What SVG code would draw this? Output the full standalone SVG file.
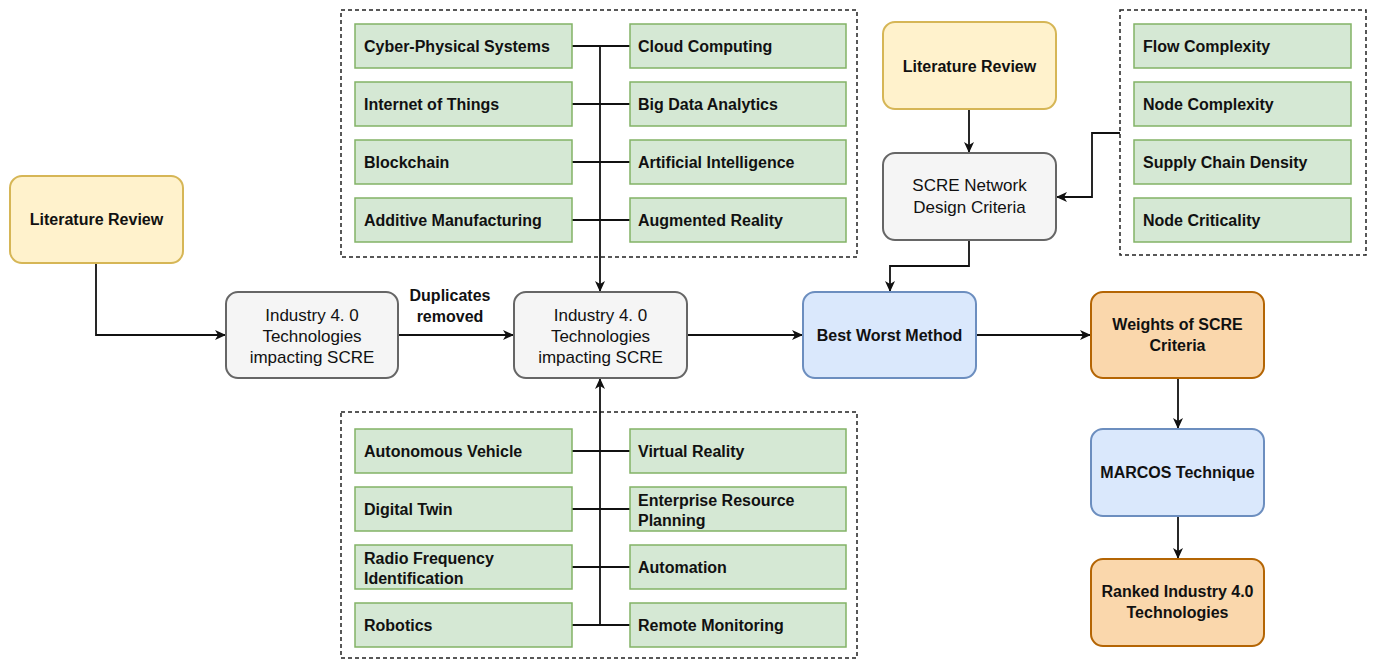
<svg xmlns="http://www.w3.org/2000/svg" width="1375" height="661" viewBox="0 0 1375 661">
  <style>
    text { font-family: "Liberation Sans", Arial, sans-serif; fill: #111; }
    .b { font-weight: bold; font-size: 16px; }
    .r { font-size: 17px; }
    .mid { text-anchor: middle; }
    .item { fill: #d5e8d4; stroke: #82b366; stroke-width: 1.5; }
    .yellow { fill: #fff2cc; stroke: #d6b656; stroke-width: 2; }
    .gray { fill: #f5f5f5; stroke: #666666; stroke-width: 2; }
    .blue { fill: #dae8fc; stroke: #6c8ebf; stroke-width: 2; }
    .orange { fill: #fad7ac; stroke: #b46504; stroke-width: 2; }
    .group { fill: none; stroke: #222; stroke-width: 1.5; stroke-dasharray: 4 3; }
    .wire { fill: none; stroke: #111; stroke-width: 1.8; }
  </style>
  <defs>
    <marker id="arrow" markerUnits="userSpaceOnUse" markerWidth="14" markerHeight="14" refX="12" refY="7" orient="auto">
      <path d="M1,2 L12,7 L1,12 L4,7 Z" fill="#111"/>
    </marker>
  </defs>

  <rect width="1375" height="661" fill="#ffffff"/>

  <!-- dashed groupings -->
  <g id="groups">
    <rect class="group" x="341" y="10" width="516" height="247"/>
    <rect class="group" x="341" y="412" width="516" height="246"/>
    <rect class="group" x="1120" y="10" width="246" height="245"/>
  </g>

  <!-- connectors -->
  <g id="connectors">
    <!-- upper technology tree -->
    <path class="wire" d="M572,46 H630 M572,104 H630 M572,162 H630 M572,220 H630"/>
    <path class="wire" d="M600,46 V292" marker-end="url(#arrow)"/>
    <!-- lower technology tree -->
    <path class="wire" d="M572,451 H630 M572,509 H630 M572,567 H630 M572,625 H630"/>
    <path class="wire" d="M600,625 V378" marker-end="url(#arrow)"/>
    <!-- main flow -->
    <path class="wire" d="M96,263 V335 H226" marker-end="url(#arrow)"/>
    <path class="wire" d="M398,335 H514" marker-end="url(#arrow)"/>
    <path class="wire" d="M687,335 H803" marker-end="url(#arrow)"/>
    <path class="wire" d="M969,109 V153" marker-end="url(#arrow)"/>
    <path class="wire" d="M1120,133 H1092 V197 H1056" marker-end="url(#arrow)"/>
    <path class="wire" d="M969,240 V266 H890 V292" marker-end="url(#arrow)"/>
    <path class="wire" d="M976,335 H1091" marker-end="url(#arrow)"/>
    <path class="wire" d="M1178,378 V429" marker-end="url(#arrow)"/>
    <path class="wire" d="M1178,516 V559" marker-end="url(#arrow)"/>
    <text class="b mid" x="450" y="301">Duplicates</text>
    <text class="b mid" x="450" y="322">removed</text>
  </g>

  <!-- upper technologies -->
  <g id="cps"><rect class="item" x="355" y="24" width="217" height="44"/><text class="b" x="364" y="52">Cyber-Physical Systems</text></g>
  <g id="iot"><rect class="item" x="355" y="82" width="217" height="44"/><text class="b" x="364" y="110">Internet of Things</text></g>
  <g id="blockchain"><rect class="item" x="355" y="140" width="217" height="44"/><text class="b" x="364" y="168">Blockchain</text></g>
  <g id="additive"><rect class="item" x="355" y="198" width="217" height="44"/><text class="b" x="364" y="226">Additive Manufacturing</text></g>
  <g id="cloud"><rect class="item" x="630" y="24" width="216" height="44"/><text class="b" x="638" y="52">Cloud Computing</text></g>
  <g id="bigdata"><rect class="item" x="630" y="82" width="216" height="44"/><text class="b" x="638" y="110">Big Data Analytics</text></g>
  <g id="ai"><rect class="item" x="630" y="140" width="216" height="44"/><text class="b" x="638" y="168">Artificial Intelligence</text></g>
  <g id="ar"><rect class="item" x="630" y="198" width="216" height="44"/><text class="b" x="638" y="226">Augmented Reality</text></g>

  <!-- lower technologies -->
  <g id="av"><rect class="item" x="355" y="429" width="217" height="44"/><text class="b" x="364" y="457">Autonomous Vehicle</text></g>
  <g id="twin"><rect class="item" x="355" y="487" width="217" height="44"/><text class="b" x="364" y="515">Digital Twin</text></g>
  <g id="rfid"><rect class="item" x="355" y="545" width="217" height="44"/><text class="b" x="364" y="564">Radio Frequency</text><text class="b" x="364" y="584">Identification</text></g>
  <g id="robotics"><rect class="item" x="355" y="603" width="217" height="44"/><text class="b" x="364" y="631">Robotics</text></g>
  <g id="vr"><rect class="item" x="630" y="429" width="216" height="44"/><text class="b" x="638" y="457">Virtual Reality</text></g>
  <g id="erp"><rect class="item" x="630" y="487" width="216" height="44"/><text class="b" x="638" y="506">Enterprise Resource</text><text class="b" x="638" y="526">Planning</text></g>
  <g id="automation"><rect class="item" x="630" y="545" width="216" height="44"/><text class="b" x="638" y="573">Automation</text></g>
  <g id="remote"><rect class="item" x="630" y="603" width="216" height="44"/><text class="b" x="638" y="631">Remote Monitoring</text></g>

  <!-- network criteria -->
  <g id="flow"><rect class="item" x="1134" y="24" width="217" height="44"/><text class="b" x="1143" y="52">Flow Complexity</text></g>
  <g id="nodecx"><rect class="item" x="1134" y="82" width="217" height="44"/><text class="b" x="1143" y="110">Node Complexity</text></g>
  <g id="density"><rect class="item" x="1134" y="140" width="217" height="44"/><text class="b" x="1143" y="168">Supply Chain Density</text></g>
  <g id="criticality"><rect class="item" x="1134" y="198" width="217" height="44"/><text class="b" x="1143" y="226">Node Criticality</text></g>

  <!-- process steps -->
  <g id="lit1"><rect class="yellow" x="10" y="176" width="173" height="87" rx="12"/><text class="b mid" x="96.5" y="225">Literature Review</text></g>
  <g id="tech1"><rect class="gray" x="226" y="292" width="172" height="86" rx="12"/><text class="r mid" x="312" y="321">Industry 4. 0</text><text class="r mid" x="312" y="342">Technologies</text><text class="r mid" x="312" y="363">impacting SCRE</text></g>
  <g id="tech2"><rect class="gray" x="514" y="292" width="173" height="86" rx="12"/><text class="r mid" x="600.5" y="321">Industry 4. 0</text><text class="r mid" x="600.5" y="342">Technologies</text><text class="r mid" x="600.5" y="363">impacting SCRE</text></g>
  <g id="lit2"><rect class="yellow" x="883" y="22" width="173" height="87" rx="12"/><text class="b mid" x="969.5" y="72">Literature Review</text></g>
  <g id="criteria"><rect class="gray" x="883" y="153" width="173" height="87" rx="12"/><text class="r mid" x="969.5" y="191">SCRE Network</text><text class="r mid" x="969.5" y="213">Design Criteria</text></g>
  <g id="bwm"><rect class="blue" x="803" y="292" width="173" height="86" rx="12"/><text class="b mid" x="889.5" y="341">Best Worst Method</text></g>
  <g id="weights"><rect class="orange" x="1091" y="292" width="173" height="86" rx="12"/><text class="b mid" x="1177.5" y="330">Weights of SCRE</text><text class="b mid" x="1177.5" y="351">Criteria</text></g>
  <g id="marcos"><rect class="blue" x="1091" y="429" width="173" height="87" rx="12"/><text class="b mid" x="1177.5" y="478">MARCOS Technique</text></g>
  <g id="ranked"><rect class="orange" x="1091" y="559" width="173" height="87" rx="12"/><text class="b mid" x="1177.5" y="597">Ranked Industry 4.0</text><text class="b mid" x="1177.5" y="618">Technologies</text></g>
</svg>
